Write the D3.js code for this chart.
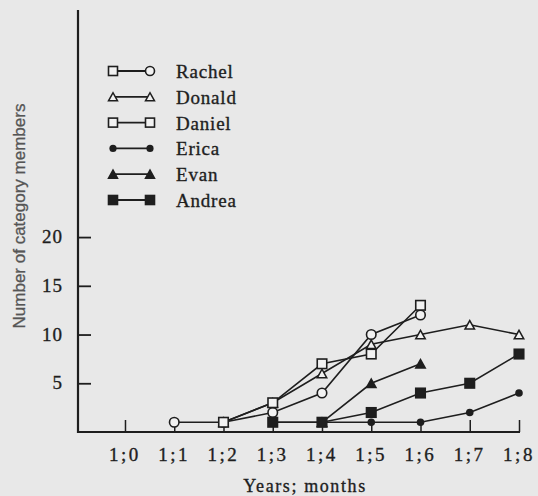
<!DOCTYPE html>
<html><head><meta charset="utf-8">
<script src="https://cdn.jsdelivr.net/npm/d3@7/dist/d3.min.js"></script>
<style>
html,body{margin:0;padding:0;background:#e8e8e8;}
svg{display:block;}
</style></head>
<body>
<svg id="c" width="538" height="496"></svg>
<script>
// Age in months after 1;0 (0 = 1;0 ... 8 = 1;8)
const monthLabels = ["1;0","1;1","1;2","1;3","1;4","1;5","1;6","1;7","1;8"];
const yTicks = [5,10,15,20];
const seriesNames = ["Rachel","Donald","Daniel","Erica","Evan","Andrea"];
const rachelMonths = [1,2,3,4,5,6];
const rachelValues = [1,1,2,4,10,12];
const donaldMonths = [2,3,4,5,6,7,8];
const donaldValues = [1,3,6,9,10,11,10];
const danielMonths = [2,3,4,5,6];
const danielValues = [1,3,7,8,13];
const ericaMonths = [3,4,5,6,7,8];
const ericaValues = [1,1,1,1,2,4];
const evanMonths = [4,5,6];
const evanValues = [1,5,7];
const andreaMonths = [3,4,5,6,7,8];
const andreaValues = [1,1,2,4,5,8];

const series = [
  {name:seriesNames[0], months:rachelMonths, values:rachelValues, shape:"circle", fill:false, legendLeft:"square"},
  {name:seriesNames[1], months:donaldMonths, values:donaldValues, shape:"triangle", fill:false},
  {name:seriesNames[2], months:danielMonths, values:danielValues, shape:"square", fill:false},
  {name:seriesNames[3], months:ericaMonths,  values:ericaValues,  shape:"dot", fill:true},
  {name:seriesNames[4], months:evanMonths,   values:evanValues,   shape:"triangle", fill:true},
  {name:seriesNames[5], months:andreaMonths, values:andreaValues, shape:"square", fill:true}
];

const svg = d3.select("#c");
const ink = "#1e1e1e";
const x = d3.scaleLinear().domain([-0.954, 8]).range([78, 519]);
const y = d3.scaleLinear().domain([0, 43.3]).range([432, 10]);

// axes
const xAxis = d3.axisBottom(x).tickValues(d3.range(0,9)).tickSize(-12).tickFormat("").tickSizeOuter(0);
const gx = svg.append("g").attr("transform","translate(0,432)").call(xAxis);
gx.select(".domain").remove();
gx.selectAll(".tick line").attr("stroke",ink).attr("stroke-width",1.5);
svg.append("line").attr("x1",x(-0.954)).attr("x2",x(8)+1).attr("y1",432).attr("y2",432)
  .attr("stroke",ink).attr("stroke-width",2.2);

const yAxis = d3.axisLeft(y).tickValues(yTicks).tickSize(-13).tickFormat("").tickSizeOuter(0);
const gy = svg.append("g").attr("transform","translate(78,0)").call(yAxis);
gy.select(".domain").remove();
gy.selectAll(".tick line").attr("stroke",ink).attr("stroke-width",1.8);
svg.append("line").attr("x1",78).attr("x2",78).attr("y1",y(43.3)).attr("y2",433)
  .attr("stroke",ink).attr("stroke-width",2.2);

const txt = sel => sel.attr("font-family","Liberation Serif, serif").attr("fill",ink)
  .attr("stroke",ink).attr("stroke-width",0.35);

// tick labels
svg.append("g").selectAll("text").data(yTicks).join("text")
  .attr("x",63).attr("y",d=>y(d)+6).attr("text-anchor","end")
  .attr("font-size",19).attr("letter-spacing",1).call(txt).text(d=>d);
svg.append("g").selectAll("text").data(monthLabels).join("text")
  .attr("x",(d,i)=>x(i)).attr("y",461).attr("text-anchor","middle")
  .attr("font-size",19).attr("letter-spacing",2.5).call(txt).text(d=>d);
svg.append("text").attr("x",305).attr("y",492).attr("text-anchor","middle")
  .attr("font-size",18).attr("letter-spacing",1.6).call(txt).text("Years; months");
svg.append("text").attr("transform","translate(25,216) rotate(-90)").attr("text-anchor","middle")
  .attr("font-family","Liberation Sans, Arial, sans-serif").attr("font-size",17)
  .attr("fill","#555").attr("stroke","#555").attr("stroke-width",0.3).text("Number of category members");

// markers
function marker(g, shape, fill, cx, cy, s){
  const f = fill ? ink : "#f2f2f2";
  if(shape==="circle"){
    g.append("circle").attr("cx",cx).attr("cy",cy).attr("r",s*0.5).attr("fill",f).attr("stroke",ink).attr("stroke-width",1.6);
  } else if(shape==="dot"){
    g.append("circle").attr("cx",cx).attr("cy",cy).attr("r",s*0.4).attr("fill",ink);
  } else if(shape==="square"){
    g.append("rect").attr("x",cx-s/2).attr("y",cy-s/2).attr("width",s).attr("height",s)
      .attr("fill",f).attr("stroke",ink).attr("stroke-width",1.6);
  } else if(shape==="triangle"){
    const h = s*0.9;
    g.append("path").attr("d",`M${cx-s/2},${cy+h/2}L${cx+s/2},${cy+h/2}L${cx},${cy-h/2}Z`)
      .attr("fill",f).attr("stroke",ink).attr("stroke-width",1.5).attr("stroke-linejoin","miter");
  }
}

const line = d3.line().x(d=>x(d[0])).y(d=>y(d[1]));
const plot = svg.append("g");
series.forEach(s=>{
  const pts = s.months.map((m,i)=>[m, s.values[i]]);
  plot.append("path").datum(pts).attr("d",line).attr("fill","none").attr("stroke",ink).attr("stroke-width",1.6);
});
series.forEach(s=>{
  const g = plot.append("g");
  s.months.forEach((m,i)=>marker(g, s.shape, s.fill, x(m), y(s.values[i]), 9.5));
});

// legend
const lg = svg.append("g");
series.forEach((s,i)=>{
  const cy = 71 + i*25.8;
  lg.append("line").attr("x1",112).attr("x2",150).attr("y1",cy).attr("y2",cy).attr("stroke",ink).attr("stroke-width",1.8);
  marker(lg, s.legendLeft || s.shape, s.fill, 113, cy, 9);
  marker(lg, s.shape, s.fill, 150, cy, 9);
  lg.append("text").attr("x",176).attr("y",cy+7)
    .attr("font-size",19).attr("letter-spacing",0.8).call(txt).text(s.name);
});
</script>
</body></html>
